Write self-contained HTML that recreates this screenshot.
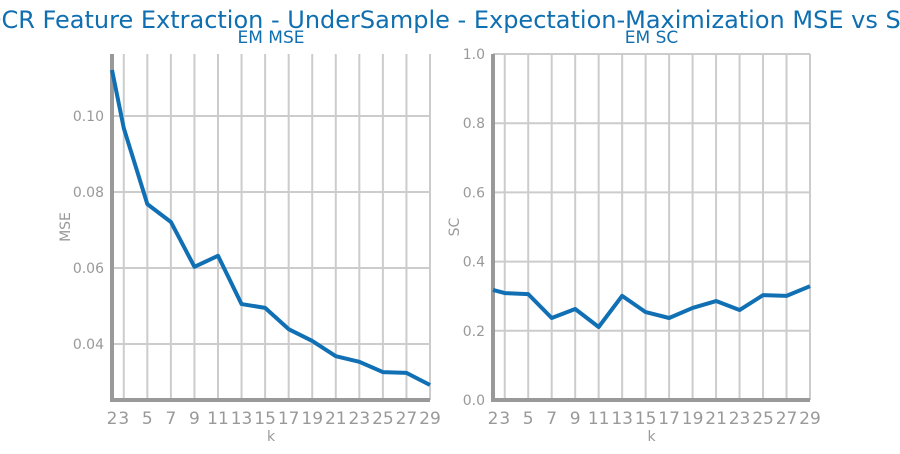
<!DOCTYPE html>
<html><head><meta charset="utf-8"><style>
body{margin:0;background:#fff;width:900px;height:450px;overflow:hidden;font-family:"DejaVu Sans","Liberation Sans",sans-serif}
</style></head><body>
<svg id="c" width="900" height="450" xmlns="http://www.w3.org/2000/svg"></svg>
<script>
const ks=[2,3,5,7,9,11,13,15,17,19,21,23,25,27,29];
const mseVals=[0.1121,0.0968,0.0768,0.0721,0.0603,0.0632,0.0505,0.0495,0.0439,0.0408,0.0368,0.0353,0.0326,0.0324,0.0292];
const scVals=[0.318,0.309,0.306,0.237,0.263,0.211,0.301,0.254,0.237,0.266,0.286,0.26,0.303,0.301,0.329];
const mseTicks=[0.04,0.06,0.08,0.10];
const mseTickLabels=["0.04","0.06","0.08","0.10"];
const scTicks=[0,0.2,0.4,0.6,0.8,1.0];
const scTickLabels=["0.0","0.2","0.4","0.6","0.8","1.0"];
const svg=document.getElementById('c');
const NS='http://www.w3.org/2000/svg';
function mk(t,a,txt){const e=document.createElementNS(NS,t);for(const k in a)e.setAttribute(k,a[k]);if(txt!==undefined)e.textContent=txt;svg.appendChild(e);return e;}
const title=mk('text',{x:450,y:28,'text-anchor':'middle','font-size':24,fill:'#0f6fb0'},'OCR Feature Extraction - UnderSample - Expectation-Maximization MSE vs SC');


function panel(x0,x1,y0,y1,ymin,ymax,ticks,labels,vals,name,ylabel,key,ylx){
  const X=k=>x0+(k-2)/(29-2)*(x1-x0);
  const Y=v=>y1-(v-ymin)/(ymax-ymin)*(y1-y0);
  for(let k=3;k<=29;k+=2){const l=mk('line',{x1:X(k),x2:X(k),y1:y0,y2:y1,stroke:'#cccccc','stroke-width':2});
    }
  ticks.forEach((t,i)=>{const l=mk('line',{x1:x0,x2:x1,y1:Y(t),y2:Y(t),stroke:'#cccccc','stroke-width':2});
    
    const tx=mk('text',{x:x0-8,y:Y(t)+5,'text-anchor':'end','font-size':14,fill:'#999'},labels[i]);
    });
  ks.forEach(k=>{const tx=mk('text',{x:X(k),y:y1+24,'text-anchor':'middle','font-size':17,fill:'#999'},String(k));
    });
  const ax=mk('path',{d:`M${x0},${y0} L${x0},${y1} L${x1},${y1}`,fill:'none',stroke:'#999','stroke-width':4});
  
  const pts=ks.map((k,i)=>X(k)+','+Y(vals[i])).join(' ');
  const pl=mk('polyline',{points:pts,fill:'none',stroke:'#1170b4','stroke-width':4,'stroke-linejoin':'round'});
  
  const t=mk('text',{x:(x0+x1)/2,y:y0-11,'text-anchor':'middle','font-size':17,fill:'#0f6fb0'},name);
  
  const xl=mk('text',{x:(x0+x1)/2,y:y1+41,'text-anchor':'middle','font-size':14,fill:'#999'},'k');
  
  const yl=mk('text',{x:0,y:0,'text-anchor':'middle','font-size':14,fill:'#999',transform:`translate(${ylx},${(y0+y1)/2}) rotate(-90)`},ylabel);
  
}
panel(112,430,54,400,0.02526,0.1163,mseTicks,mseTickLabels,mseVals,'EM MSE','MSE','mse',70);
panel(493,810,54,400,0,1,scTicks,scTickLabels,scVals,'EM SC','SC','sc',459);
</script>
</body></html>
